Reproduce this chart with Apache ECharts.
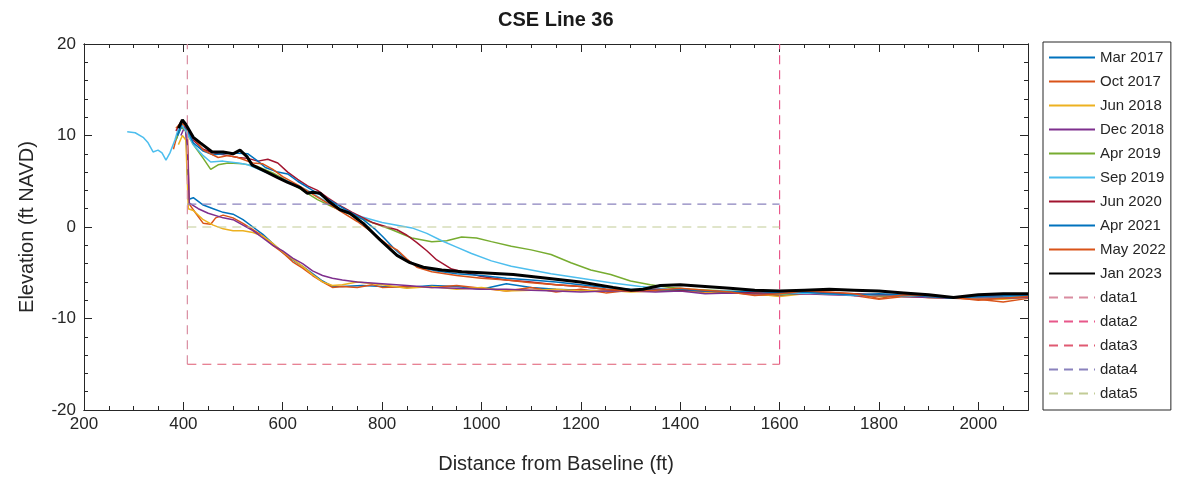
<!DOCTYPE html>
<html><head><meta charset="utf-8">
<script src="https://cdn.jsdelivr.net/npm/echarts@6/dist/echarts.min.js"></script>
<style>html,body{margin:0;padding:0;background:#fff}#c{width:1178px;height:479px}</style>
</head><body><div id="c"></div>
<script>
// ---- Data (distance ft, elevation ft NAVD) ----
const seriesNames = ['Mar 2017','Oct 2017','Jun 2018','Dec 2018','Apr 2019','Sep 2019','Jun 2020','Apr 2021','May 2022','Jan 2023','data1','data2','data3','data4','data5'];

const mar2017 = [[385,9.5],[395,10.8],[405,11.0],[410,3.0],[420,3.2],[440,2.4],[460,2.0],[480,1.6],[500,1.4],[520,0.8],[540,0.0],[560,-0.8],[580,-1.8],[600,-2.8],[620,-3.6],[640,-4.3],[660,-5.1],[680,-5.9],[700,-6.5],[720,-6.5],[760,-6.4],[800,-6.5],[850,-6.6],[900,-6.4],[950,-6.5],[1000,-6.8],[1050,-6.2],[1100,-6.6],[1150,-6.8],[1200,-6.9],[1250,-7.0],[1300,-7.0],[1350,-6.9],[1400,-6.8],[1450,-7.0],[1500,-7.1],[1550,-7.2],[1600,-7.3],[1650,-7.2],[1700,-7.3],[1750,-7.4],[1800,-7.5],[1850,-7.6],[1900,-7.6],[1950,-7.8],[2000,-7.7],[2050,-7.7],[2100,-7.6]];
const oct2017 = [[380,8.5],[390,10.5],[400,11.3],[408,10.8],[412,2.5],[425,1.5],[440,0.4],[455,0.3],[465,1.0],[480,1.3],[500,1.0],[520,0.4],[540,-0.3],[560,-1.0],[580,-2.0],[600,-2.8],[620,-3.8],[640,-4.5],[660,-5.3],[680,-6.0],[700,-6.6],[720,-6.5],[750,-6.6],[780,-6.3],[800,-6.6],[850,-6.5],[900,-6.6],[950,-6.4],[1000,-6.7],[1050,-7.0],[1100,-6.6],[1150,-7.1],[1200,-6.8],[1250,-7.2],[1300,-6.9],[1350,-7.0],[1400,-6.8],[1450,-7.2],[1500,-7.1],[1550,-7.4],[1600,-7.5],[1650,-7.2],[1700,-7.3],[1750,-7.5],[1800,-7.9],[1850,-7.6],[1900,-7.7],[1950,-7.8],[2000,-7.9],[2050,-8.2],[2100,-7.8]];
const jun2018 = [[390,9.0],[398,10.0],[405,9.5],[410,2.0],[420,1.8],[440,0.8],[460,0.2],[480,-0.2],[500,-0.4],[520,-0.4],[540,-0.6],[560,-1.0],[580,-1.8],[600,-2.7],[620,-3.5],[640,-4.3],[660,-5.2],[680,-6.0],[700,-6.4],[720,-6.3],[750,-6.0],[800,-6.3],[850,-6.7],[900,-6.5],[950,-6.8],[1000,-6.6],[1050,-7.0],[1100,-6.9],[1150,-6.8],[1200,-7.0],[1250,-6.9],[1300,-7.1],[1350,-7.0],[1400,-6.9],[1450,-7.1],[1500,-7.2],[1550,-7.3],[1600,-7.6],[1650,-7.3],[1700,-7.2],[1750,-7.4],[1800,-7.6],[1850,-7.5],[1900,-7.7],[1950,-7.8],[2000,-7.8],[2050,-7.9],[2100,-7.7]];
const dec2018 = [[395,10.0],[403,11.0],[408,9.0],[412,2.6],[430,2.0],[450,1.5],[480,1.0],[500,0.8],[520,0.2],[540,-0.4],[560,-1.2],[580,-2.0],[600,-2.6],[620,-3.4],[640,-4.0],[660,-4.8],[680,-5.3],[700,-5.6],[720,-5.8],[750,-6.0],[800,-6.2],[850,-6.4],[900,-6.6],[950,-6.7],[1000,-6.8],[1050,-6.8],[1100,-6.9],[1150,-7.0],[1200,-7.1],[1250,-7.0],[1300,-7.0],[1350,-7.1],[1400,-7.0],[1450,-7.3],[1500,-7.2],[1550,-7.3],[1600,-7.4],[1650,-7.3],[1700,-7.4],[1750,-7.5],[1800,-7.5],[1850,-7.6],[1900,-7.7],[1950,-7.8],[2000,-7.7],[2050,-7.8],[2100,-7.7]];
const apr2019 = [[385,9.5],[395,11.0],[405,10.5],[420,9.0],[440,7.5],[455,6.3],[470,6.8],[490,7.0],[520,6.9],[550,6.6],[580,5.9],[610,5.0],[640,4.0],[670,3.0],[700,2.2],[740,1.3],[780,0.5],[820,-0.3],[860,-1.2],[900,-1.6],[930,-1.5],[960,-1.1],[990,-1.2],[1020,-1.6],[1060,-2.1],[1100,-2.5],[1140,-3.0],[1180,-3.9],[1220,-4.7],[1260,-5.2],[1300,-5.9],[1340,-6.3],[1380,-6.6],[1420,-6.8],[1460,-6.9],[1500,-7.0],[1550,-7.1],[1600,-7.4],[1650,-7.2],[1700,-7.3],[1750,-7.3],[1800,-7.5],[1850,-7.5],[1900,-7.6],[1950,-7.7],[2000,-7.6],[2050,-7.6],[2100,-7.5]];
const sep2019 = [[287,10.4],[303,10.3],[319,9.8],[329,9.2],[339,8.2],[349,8.4],[357,8.1],[365,7.3],[373,8.1],[383,9.5],[389,10.6],[397,11.1],[405,10.5],[420,9.0],[440,7.8],[455,7.1],[480,7.2],[510,7.0],[530,6.8],[570,5.9],[615,4.9],[650,4.0],[690,2.7],[720,1.9],[760,1.1],[800,0.5],[830,0.2],[860,-0.1],[890,-0.7],[920,-1.5],[950,-2.2],[980,-2.9],[1020,-3.7],[1060,-4.3],[1100,-4.7],[1140,-5.1],[1200,-5.6],[1260,-6.1],[1320,-6.5],[1380,-6.8],[1450,-7.0],[1500,-7.0],[1550,-7.2],[1600,-7.3],[1650,-7.2],[1700,-7.3],[1750,-7.5],[1800,-7.4],[1850,-7.5],[1900,-7.6],[1950,-7.7],[2000,-7.6],[2050,-7.6],[2100,-7.5]];
const jun2020 = [[385,10.5],[395,11.5],[405,11.0],[420,9.5],[440,8.5],[455,8.2],[470,8.0],[490,7.8],[510,7.6],[530,7.5],[550,7.2],[570,7.4],[590,7.0],[610,6.0],[630,5.2],[650,4.5],[670,4.0],[690,3.2],[710,2.5],[740,1.6],[780,0.5],[810,0.0],[830,-0.3],[850,-0.9],[870,-1.7],[890,-2.6],[910,-3.6],[940,-4.6],[970,-5.0],[1000,-5.4],[1050,-5.8],[1100,-6.0],[1150,-6.3],[1200,-6.5],[1250,-6.8],[1300,-7.0],[1350,-6.8],[1400,-6.9],[1450,-7.0],[1500,-7.1],[1550,-7.2],[1600,-7.2],[1650,-7.1],[1700,-7.2],[1750,-7.3],[1800,-7.4],[1850,-7.4],[1900,-7.6],[1950,-7.7],[2000,-7.5],[2050,-7.5],[2100,-7.4]];
const apr2021 = [[388,10.0],[398,11.4],[405,11.0],[420,9.2],[440,8.3],[460,7.9],[480,8.0],[500,8.1],[530,8.0],[550,7.2],[565,6.5],[590,6.0],[610,5.8],[630,5.0],[660,4.0],[695,2.9],[730,1.8],[762,0.8],[785,-0.2],[802,-1.1],[825,-2.4],[850,-3.6],[876,-4.4],[910,-4.8],[950,-5.1],[1000,-5.3],[1050,-5.6],[1100,-5.8],[1150,-6.0],[1200,-6.3],[1250,-6.6],[1300,-6.8],[1350,-6.9],[1400,-6.8],[1450,-7.0],[1500,-7.1],[1550,-7.0],[1600,-7.2],[1650,-7.1],[1700,-7.3],[1750,-7.4],[1800,-7.3],[1850,-7.4],[1900,-7.6],[1950,-7.8],[2000,-7.6],[2050,-7.5],[2100,-7.5]];
const may2022 = [[385,10.8],[395,11.4],[405,11.0],[420,9.8],[440,8.4],[455,8.0],[470,7.6],[490,7.8],[510,7.6],[540,7.0],[560,6.9],[580,6.3],[600,5.5],[630,4.6],[660,3.6],[690,2.6],[720,1.6],[750,0.6],[780,-0.6],[810,-1.9],[830,-2.5],[850,-3.5],[870,-4.4],[900,-4.9],[950,-5.3],[1000,-5.6],[1050,-5.8],[1100,-6.1],[1150,-6.3],[1200,-6.5],[1250,-6.8],[1300,-7.0],[1350,-6.9],[1400,-6.7],[1450,-6.9],[1500,-7.1],[1550,-7.5],[1600,-7.3],[1650,-7.0],[1700,-7.1],[1750,-7.3],[1800,-7.8],[1850,-7.4],[1900,-7.5],[1950,-7.7],[2000,-8.0],[2050,-7.8],[2100,-7.6]];
const jan2023 = [[390,10.8],[398,11.7],[405,11.2],[420,9.8],[434,9.2],[458,8.2],[480,8.2],[500,8.0],[514,8.4],[528,7.7],[538,6.8],[568,6.0],[590,5.4],[609,4.9],[635,4.3],[649,3.7],[661,3.8],[675,3.7],[695,2.7],[715,1.9],[735,1.5],[762,0.4],[796,-1.4],[830,-3.1],[856,-3.9],[883,-4.4],[920,-4.7],[960,-4.9],[1000,-5.0],[1064,-5.2],[1132,-5.6],[1199,-6.0],[1265,-6.6],[1300,-6.9],[1325,-6.8],[1360,-6.4],[1400,-6.3],[1450,-6.5],[1500,-6.7],[1550,-6.9],[1600,-7.0],[1650,-6.9],[1700,-6.8],[1750,-6.9],[1800,-7.0],[1850,-7.2],[1900,-7.4],[1950,-7.7],[2000,-7.4],[2050,-7.3],[2100,-7.3]];
const data1 = [[408,-15],[408,20]];
const data2 = [[1600,-15],[1600,20]];
const data3 = [[408,-15],[1600,-15]];
const data4 = [[408,2.5],[1600,2.5]];
const data5 = [[408,0],[1600,0]];
const xTicksMajor = [200,400,600,800,1000,1200,1400,1600,1800,2000];
const yTicksMajor = [-20,-10,0,10,20];

const allData = [mar2017,oct2017,jun2018,dec2018,apr2019,sep2019,jun2020,apr2021,may2022,jan2023,data1,data2,data3,data4,data5];
const colors = ['#0072BD','#D95319','#EDB120','#7E2F8E','#77AC30','#4DBEEE','#A2142F','#0072BD','#D95319','#000000','#d98ca0','#e8578a','#e05a72','#8a82bd','#c2cc96'];

const chart = echarts.init(document.getElementById('c'), null, {renderer:'canvas'});
const txt = '#262626';
const FONT = 'Liberation Sans, Arial, sans-serif';
function axisX(opts){
  return Object.assign({type:'value', min:200, max:2100, splitLine:{show:false},
    axisLine:{show:true, onZero:false, lineStyle:{color:txt, width:1}},
    axisTick:{show:true, inside:true, length:8, lineStyle:{color:txt}},
    axisLabel:{show:false}}, opts);
}
function axisY(opts){
  return Object.assign({type:'value', min:-20, max:20, splitLine:{show:false},
    axisLine:{show:true, onZero:false, lineStyle:{color:txt, width:1}},
    axisTick:{show:true, inside:true, length:8, lineStyle:{color:txt}},
    axisLabel:{show:false}}, opts);
}
const series = allData.map((d,i)=>({
  name: seriesNames[i], type:'line', data:d, xAxisIndex:0, yAxisIndex:0,
  symbol:'none', showSymbol:false, smooth:false, silent:true,
  lineStyle:{color:colors[i], width: i===9 ? 3 : (i>=10 ? 1.2 : 1.5), type: i>=10 ? [9,6] : 'solid'},
  itemStyle:{color:colors[i]},
  z: i===9 ? 5 : 3
}));

chart.setOption({
  animation:false,
  backgroundColor:'#ffffff',
  textStyle:{fontFamily:FONT},
  title:{text:'CSE Line 36', left:498, top:10, padding:0,
    textStyle:{fontSize:20, fontWeight:'bold', color:'#1a1a1a', fontFamily:FONT}},
  grid:{left:84, right:150, top:44, bottom:69, containLabel:false},
  legend:{orient:'vertical', left:1043, top:42, padding:[8,5,9,5], itemGap:9,
    itemWidth:46, itemHeight:14, borderColor:txt, borderWidth:1, backgroundColor:'#fff',
    itemStyle:{opacity:0},
    data:seriesNames, textStyle:{fontSize:15, color:txt, fontFamily:FONT}},
  xAxis:[
    axisX({position:'bottom', interval:200,
      axisLabel:{show:true, fontSize:17, color:txt, margin:6, fontFamily:FONT,
        formatter:(v)=> xTicksMajor.includes(v) ? String(v) : ''},
      name:'Distance from Baseline (ft)', nameLocation:'middle', nameGap:44,
      nameTextStyle:{fontSize:20, color:txt, fontFamily:FONT}}),
    axisX({position:'bottom', interval:50, axisTick:{show:true, inside:true, length:4, lineStyle:{color:txt}}}),
    axisX({position:'top', interval:200}),
    axisX({position:'top', interval:50, axisTick:{show:true, inside:true, length:4, lineStyle:{color:txt}}})
  ],
  yAxis:[
    axisY({position:'left', interval:10,
      axisLabel:{show:true, fontSize:17, color:txt, margin:8, fontFamily:FONT,
        formatter:(v)=> yTicksMajor.includes(v) ? String(v) : ''},
      name:'Elevation (ft NAVD)', nameLocation:'middle', nameGap:47,
      nameTextStyle:{fontSize:20, color:txt, fontFamily:FONT}}),
    axisY({position:'left', interval:2, axisTick:{show:true, inside:true, length:4, lineStyle:{color:txt}}}),
    axisY({position:'right', interval:10}),
    axisY({position:'right', interval:2, axisTick:{show:true, inside:true, length:4, lineStyle:{color:txt}}})
  ],
  series: series
});
</script></body></html>
